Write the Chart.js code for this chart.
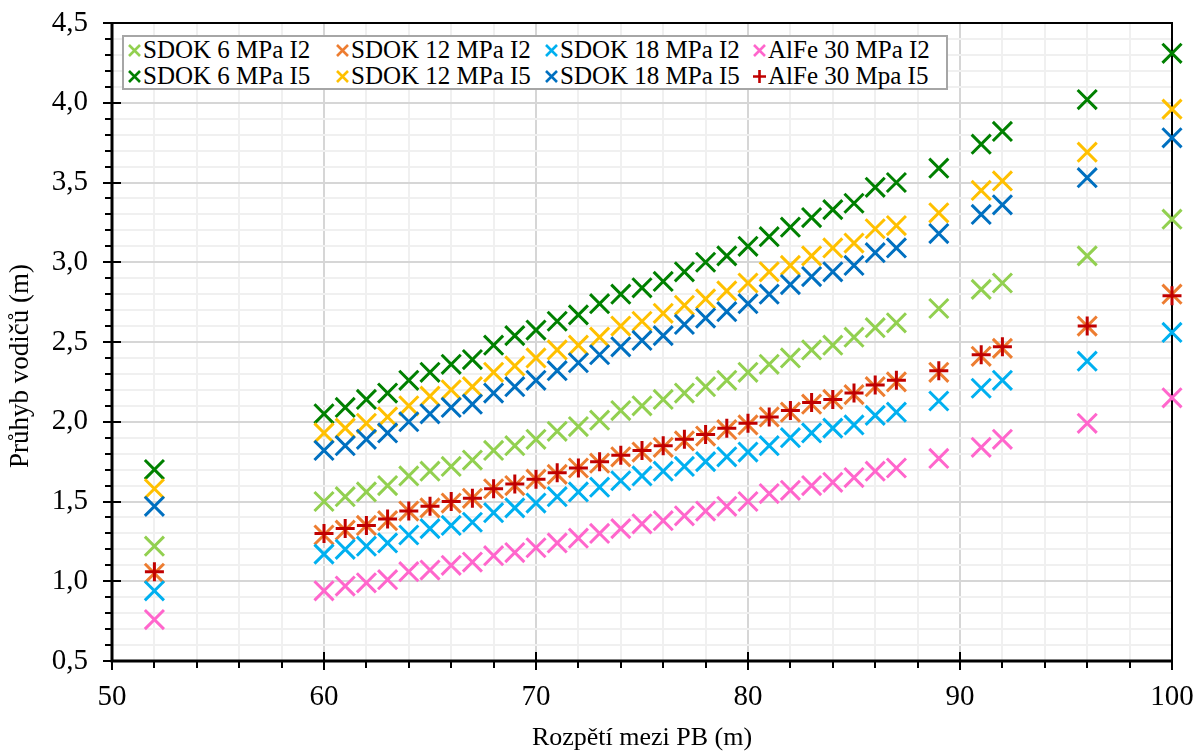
<!DOCTYPE html>
<html>
<head>
<meta charset="utf-8">
<script src="https://cdn.jsdelivr.net/npm/chart.js@4.4.1/dist/chart.umd.min.js"></script>
<style>
  body { margin: 0; background: #fff; }
  #wrap { position: relative; width: 1202px; height: 754px; }
  #legendBox {
    position: absolute; left: 122px; top: 35px; width: 822px; height: 51px;
    border: 2px solid #a6a6a6; background: #fff;
    font-family: "Liberation Serif", "Times New Roman", serif; font-size: 25px; color: #000;
  }
  .item { position: absolute; height: 26px; line-height: 26px; white-space: nowrap; }
  .item canvas { vertical-align: middle; margin-right: 1px; position: relative; top: -2px; }
</style>
</head>
<body>
<div id="wrap">
  <canvas id="myChart"></canvas>
  <div id="legendBox"></div>
</div>
<script>
// rozpětí (x) a průhyby (y)
const spans = [52, 60, 61, 62, 63, 64, 65, 66, 67, 68, 69, 70, 71, 72, 73, 74, 75, 76, 77, 78, 79, 80,
  81, 82, 83, 84, 85, 86, 87, 89, 91, 92, 96, 100];

const sdok6I2 = [1.22, 1.50, 1.53, 1.56, 1.60, 1.66, 1.69, 1.72, 1.76, 1.82, 1.85, 1.89, 1.94, 1.97, 2.01,
  2.07, 2.10, 2.14, 2.18, 2.22, 2.26, 2.31, 2.36, 2.40, 2.45, 2.48, 2.53, 2.59, 2.62, 2.71, 2.83, 2.87, 3.04, 3.27];
const sdok12I2 = [1.05, 1.29, 1.32, 1.35, 1.38, 1.44, 1.46, 1.49, 1.52, 1.58, 1.60, 1.64, 1.67, 1.71, 1.74,
  1.78, 1.81, 1.84, 1.88, 1.91, 1.95, 1.98, 2.03, 2.06, 2.11, 2.14, 2.17, 2.22, 2.25, 2.31, 2.41, 2.46, 2.60, 2.80];
const sdok18I2 = [0.94, 1.17, 1.20, 1.22, 1.24, 1.29, 1.33, 1.35, 1.37, 1.43, 1.46, 1.49, 1.53, 1.56, 1.59,
  1.63, 1.66, 1.69, 1.72, 1.75, 1.78, 1.81, 1.85, 1.90, 1.93, 1.96, 1.98, 2.04, 2.06, 2.13, 2.21, 2.26, 2.38, 2.56];
const alfe30I2 = [0.76, 0.94, 0.97, 0.99, 1.01, 1.06, 1.07, 1.10, 1.12, 1.16, 1.18, 1.21, 1.24, 1.27, 1.30,
  1.33, 1.36, 1.38, 1.41, 1.44, 1.47, 1.50, 1.55, 1.57, 1.60, 1.62, 1.65, 1.69, 1.71, 1.77, 1.84, 1.89, 1.99, 2.15];
const sdok6I5 = [1.70, 2.05, 2.09, 2.14, 2.18, 2.26, 2.31, 2.36, 2.39, 2.48, 2.54, 2.575, 2.63, 2.67, 2.74,
  2.80, 2.84, 2.88, 2.94, 3.00, 3.04, 3.10, 3.16, 3.22, 3.28, 3.33, 3.37, 3.47, 3.50, 3.59, 3.74, 3.82, 4.02, 4.31];
const sdok12I5 = [1.58, 1.93, 1.96, 1.99, 2.03, 2.10, 2.16, 2.20, 2.22, 2.31, 2.35, 2.40, 2.45, 2.48, 2.53,
  2.60, 2.63, 2.68, 2.73, 2.77, 2.82, 2.87, 2.94, 2.98, 3.04, 3.09, 3.12, 3.21, 3.23, 3.31, 3.45, 3.51, 3.69, 3.96];
const sdok18I5 = [1.47, 1.82, 1.85, 1.89, 1.93, 2.00, 2.05, 2.09, 2.11, 2.18, 2.22, 2.26, 2.32, 2.37, 2.42,
  2.47, 2.51, 2.54, 2.61, 2.65, 2.69, 2.74, 2.80, 2.86, 2.91, 2.94, 2.98, 3.06, 3.09, 3.18, 3.30, 3.36, 3.53, 3.78];
const alfe30I5 = [1.06, 1.30, 1.33, 1.35, 1.39, 1.44, 1.47, 1.50, 1.52, 1.58, 1.61, 1.64, 1.68, 1.71, 1.75,
  1.79, 1.82, 1.85, 1.89, 1.92, 1.96, 1.99, 2.03, 2.07, 2.12, 2.14, 2.18, 2.23, 2.26, 2.32, 2.42, 2.47, 2.60, 2.79];

const seriesNames = ["SDOK 6 MPa I2", "SDOK 12 MPa I2", "SDOK 18 MPa I2", "AlFe 30 MPa I2",
  "SDOK 6 MPa I5", "SDOK 12 MPa I5", "SDOK 18 MPa I5", "AlFe 30 Mpa I5"];
const seriesValues = [sdok6I2, sdok12I2, sdok18I2, alfe30I2, sdok6I5, sdok12I5, sdok18I5, alfe30I5];
const seriesColors = ["#92D050", "#ED7D31", "#00B0F0", "#FF66CC", "#008000", "#FFC000", "#0070C0", "#C00000"];

document.addEventListener("DOMContentLoaded", function () {
  const ctx = document.getElementById("myChart").getContext("2d");
  const serif = "'Liberation Serif', 'Times New Roman', serif";

  const datasets = seriesNames.map(function (name, i) {
    const isPlus = i === 7;
    return {
      label: name,
      data: spans.map(function (x, j) { return { x: x, y: seriesValues[i][j] }; }),
      pointStyle: isPlus ? "cross" : "crossRot",
      pointRadius: isPlus ? 9.5 : 13.5,
      pointHoverRadius: isPlus ? 9.5 : 13.5,
      pointBorderWidth: 3,
      borderColor: seriesColors[i],
      backgroundColor: seriesColors[i],
      showLine: false,
      clip: false,
      order: 8 - i,
    };
  });

  // ramecek, carky na osach a popis osy y
  const framePlugin = {
    id: "frame",
    beforeDatasetsDraw(chart) {
      const a = chart.chartArea;
      const c = chart.ctx;
      c.save();
      c.strokeStyle = "#000";
      c.lineWidth = 2;
      c.strokeRect(a.left, a.top, a.right - a.left, a.bottom - a.top);
      c.lineWidth = 3;
      c.beginPath();
      c.moveTo(a.left, a.top);
      c.lineTo(a.left, a.bottom);
      c.lineTo(a.right, a.bottom);
      c.stroke();
      c.restore();
    },
    afterDraw(chart) {
      const a = chart.chartArea;
      const c = chart.ctx;
      const xs = chart.scales.x;
      const ys = chart.scales.y;
      c.save();
      c.strokeStyle = "#000";
      c.lineWidth = 2;
      c.beginPath();
      for (let v = 5; v <= 45; v++) {
        const py = Math.round(ys.getPixelForValue(v / 10));
        const major = v % 5 === 0;
        c.moveTo(major ? a.left - 9 : a.left - 7, py);
        c.lineTo(major ? a.left + 9 : a.left, py);
      }
      for (let v = 50; v <= 100; v += 2) {
        const px = Math.round(xs.getPixelForValue(v));
        const major = v % 10 === 0;
        c.moveTo(px, major ? a.bottom - 9 : a.bottom);
        c.lineTo(px, major ? a.bottom + 9 : a.bottom + 7);
      }
      c.stroke();

      c.translate(21, 366);
      c.rotate(-Math.PI / 2);
      c.fillStyle = "#000";
      c.font = "27px " + serif;
      c.textAlign = "center";
      c.textBaseline = "middle";
      c.fillText("Průhyb vodičů (m)", 0, 0);
      c.restore();
    },
  };

  const myChart = new Chart(ctx, {
    type: "scatter",
    data: { datasets: datasets },
    options: {
      responsive: true,
      maintainAspectRatio: false,
      animation: false,
      layout: { padding: { top: 23, right: 30, left: 0, bottom: 0 } },
      plugins: { legend: { display: false }, tooltip: { enabled: false } },
      scales: {
        x: {
          type: "linear",
          min: 50,
          max: 100,
          afterFit: function (s) { s.height = 93; s.paddingLeft = 0; s.paddingRight = 0; },
          ticks: {
            stepSize: 2,
            autoSkip: false,
            maxRotation: 0,
            padding: 19,
            color: "#000",
            font: { family: serif, size: 29 },
            callback: function (v) { return Math.round(v) % 10 === 0 ? String(Math.round(v)) : ""; },
          },
          grid: {
            drawTicks: false,
            lineWidth: 2,
            color: function (c) { return Math.round(c.tick.value) % 10 === 0 ? "#d6d6d6" : "#f0f0f0"; },
          },
          border: { display: false },
          title: {
            display: true,
            text: "Rozpětí mezi PB (m)",
            color: "#000",
            font: { family: serif, size: 26 },
            padding: { top: 0, bottom: 0 },
          },
        },
        y: {
          type: "linear",
          min: 0.5,
          max: 4.5,
          afterFit: function (s) { s.width = 112; s.paddingTop = 0; s.paddingBottom = 0; },
          ticks: {
            stepSize: 0.1,
            autoSkip: false,
            padding: 24,
            color: "#000",
            font: { family: serif, size: 29 },
            callback: function (v) {
              const t = Math.round(v * 10);
              return t % 5 === 0 ? (t / 10).toFixed(1).replace(".", ",") : "";
            },
          },
          grid: {
            drawTicks: false,
            lineWidth: 2,
            color: function (c) { return Math.round(c.tick.value * 10) % 5 === 0 ? "#d6d6d6" : "#f0f0f0"; },
          },
          border: { display: false },
        },
      },
    },
    plugins: [framePlugin],
  });

  // legenda uvnitr grafu (4 sloupce, 2 radky)
  const legendBox = document.getElementById("legendBox");
  const colLeft = [3, 211, 420, 628];
  myChart.data.datasets.forEach(function (ds, i) {
    const item = document.createElement("div");
    item.className = "item";
    item.style.left = colLeft[i % 4] + "px";
    item.style.top = (i < 4 ? 0 : 26) + "px";
    const mk = document.createElement("canvas");
    mk.width = 15;
    mk.height = 15;
    const m = mk.getContext("2d");
    m.strokeStyle = ds.borderColor;
    m.lineWidth = 2.6;
    m.beginPath();
    if (ds.pointStyle === "cross") {
      m.moveTo(7.5, 1); m.lineTo(7.5, 14);
      m.moveTo(1, 7.5); m.lineTo(14, 7.5);
    } else {
      m.moveTo(2, 2); m.lineTo(13, 13);
      m.moveTo(13, 2); m.lineTo(2, 13);
    }
    m.stroke();
    item.appendChild(mk);
    item.appendChild(document.createTextNode(ds.label));
    legendBox.appendChild(item);
  });
});
</script>
</body>
</html>
